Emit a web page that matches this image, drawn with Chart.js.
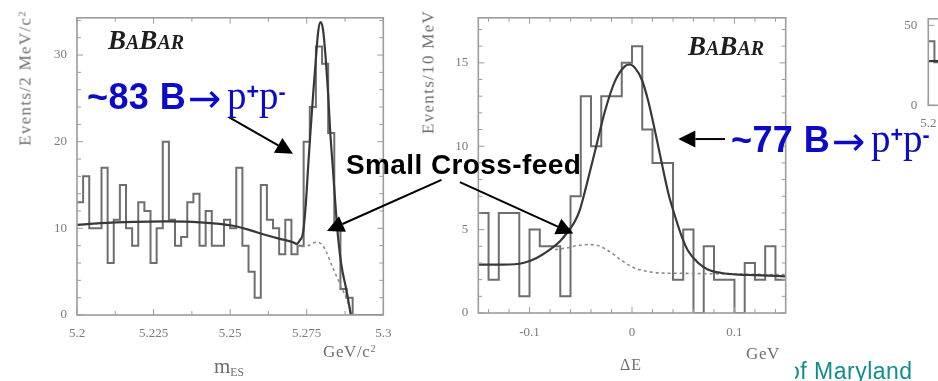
<!DOCTYPE html>
<html>
<head>
<meta charset="utf-8">
<script src="https://cdn.jsdelivr.net/npm/chart.js@4.4.1/dist/chart.umd.min.js"></script>
<style>
  html, body { margin: 0; padding: 0; background: #fff; width: 938px; height: 381px; overflow: hidden; }
  .panel { position: absolute; top: 0; }
  .txt { position: absolute; white-space: nowrap; line-height: 1; }
  .serif { font-family: 'Liberation Serif', 'Times New Roman', serif; color: #6e6e6e; }
  .sup { position: relative; top: -0.5em; font-size: 0.6em; }
  .sub { position: relative; top: 0.25em; font-size: 0.55em; }
  .babar { font-family: 'Liberation Serif', serif; font-style: italic; font-weight: bold; font-size: 27px; color: #1e1e1e; }
  .babar .sm { font-size: 20px; }
  .sig { font-family: 'Liberation Sans', Arial, sans-serif; font-weight: bold; font-size: 36px; letter-spacing: 0.4px; color: #0a0ac8; }
  .sig .arr { position: relative; top: 3px; font-family: 'DejaVu Sans', sans-serif; font-weight: normal; font-size: 40px; margin-left: 2px; margin-right: 5px; }
  .sig .pp { font-family: 'Liberation Serif', serif; font-weight: normal; font-size: 39px; letter-spacing: 0; }
  .sig .pp .ch { position: relative; top: -0.45em; font-family: 'Liberation Sans', sans-serif; font-weight: bold; font-size: 0.55em; }
  .note { font-family: 'Liberation Sans', Arial, sans-serif; font-weight: bold; font-size: 28px; letter-spacing: 0.4px; color: #000; }
  .rot { transform: translate(-50%, -50%) rotate(-90deg); font-size: 17px; letter-spacing: 1.3px; }
  .umd { position: absolute; left: 795px; top: 356px; width: 143px; height: 25px; overflow: hidden; }
  .umd span { position: absolute; left: -8px; top: 4px; white-space: nowrap; line-height: 1;
              font-family: 'Liberation Sans', Arial, sans-serif; font-size: 23px; letter-spacing: 0.5px; color: #138c8c; }
</style>
</head>
<body>

<div class="panel" style="left:0px"><canvas id="mesChart" width="460" height="381"></canvas></div>
<div class="panel" style="left:400px"><canvas id="deChart" width="400" height="381"></canvas></div>
<div class="panel" style="left:860px"><canvas id="thirdChart" width="400" height="130"></canvas></div>

<!-- axis titles -->
<div class="txt serif rot" style="left:25px; top:78px">Events/2 MeV/c<span class="sup">2</span></div>
<div class="txt serif rot" style="left:428px; top:72px">Events/10 MeV</div>
<div class="txt serif" style="left:214px; top:356px; font-size:21px">m<span class="sub">ES</span></div>
<div class="txt serif" style="left:323px; top:343px; font-size:17px; letter-spacing:0.6px">GeV/c<span class="sup">2</span></div>
<div class="txt serif" style="left:620px; top:357px; font-size:16px; letter-spacing:1px">ΔE</div>
<div class="txt serif" style="left:746px; top:345px; font-size:17px; letter-spacing:0.6px">GeV</div>

<!-- logos and labels -->
<div class="txt babar" style="left:108px; top:27px">B<span class="sm">A</span>B<span class="sm">AR</span></div>
<div class="txt babar" style="left:688px; top:33px">B<span class="sm">A</span>B<span class="sm">AR</span></div>
<div class="txt sig" style="left:87px; top:75px">~83 B<span class="arr">→</span><span class="pp">p<span class="ch">+</span>p<span class="ch">-</span></span></div>
<div class="txt sig" style="left:731px; top:118px">~77 B<span class="arr">→</span><span class="pp">p<span class="ch">+</span>p<span class="ch">-</span></span></div>
<div class="txt note" style="left:346px; top:151px">Small Cross-feed</div>
<div class="umd"><span>of Maryland</span></div>

<script>
// ---------- data ----------
// m_ES panel (2 MeV bins from 5.2)
const mesBinStart = 5.2;
const mesBinWidth = 0.002;
const mesCounts = [13, 16, 10, 10, 17, 6, 11, 15, 10, 8, 13, 12, 6, 10, 20, 11, 8, 9, 13, 14,
                   8, 12, 8, 8, 11, 10, 17, 8, 5, 2, 15, 11, 10, 7, 11, 7, 8, 20, 24, 31,
                   29, 21, 10, 3, 2, 0, 0, 0, 0, 0];
const mesFitX = [5.2, 5.2076, 5.2185, 5.2293, 5.2401, 5.251, 5.2564, 5.2619, 5.2673, 5.2705,
                 5.2717, 5.2727, 5.2738, 5.2747, 5.2755, 5.2762, 5.2771, 5.278, 5.2787, 5.2795,
                 5.2803, 5.2812, 5.282, 5.2827, 5.2836, 5.2845, 5.2852, 5.2863, 5.288, 5.2894];
const mesFitY = [10.4, 10.6, 10.75, 10.8, 10.7, 10.3, 9.8, 9.2, 8.7, 8.4,
                 8.2, 8.6, 9.5, 12.8, 17.3, 21.0, 25.5, 29.6, 32.6, 33.8,
                 33.0, 29.6, 25.5, 21.0, 16.6, 12.1, 9.1, 5.8, 2.8, 0];
const mesBkgX = [5.2717, 5.2727, 5.2755, 5.2782, 5.2798, 5.2814, 5.2831, 5.2847, 5.2863, 5.288, 5.2896];
const mesBkgY = [8.2, 7.9, 8.0, 8.4, 8.2, 7.3, 5.8, 4.5, 3.2, 1.9, 0.2];
const mesXTicks = [5.2, 5.2125, 5.225, 5.2375, 5.25, 5.2625, 5.275, 5.2875, 5.3];
const mesXLabels = ['5.2', '5.225', '5.25', '5.275', '5.3'];
const mesYTicks = [0, 2, 4, 6, 8, 10, 12, 14, 16, 18, 20, 22, 24, 26, 28, 30, 32, 34];
const mesYLabels = ['0', '10', '20', '30'];

// Delta E panel (10 MeV bins from -0.15)
const deBinStart = -0.15;
const deBinWidth = 0.01;
const deCounts = [6, 2, 6, 6, 1, 5, 4, 4, 1, 7, 13, 10, 13, 13, 15, 16, 11, 9, 9, 2,
                  5, 0, 4, 2, 2, 0, 3, 2, 4, 2];
const deFitX = [-0.15, -0.1257, -0.1062, -0.0931, -0.0801, -0.0703, -0.0622, -0.0557, -0.0508, -0.0459,
                -0.0361, -0.0264, -0.0166, -0.0068, -0.002, 0.0029, 0.0095, 0.0159, 0.0225, 0.029,
                0.0354, 0.042, 0.0485, 0.055, 0.0647, 0.0745, 0.0876, 0.1038, 0.1201, 0.15];
const deFitY = [2.9, 2.9, 3.0, 3.3, 3.8, 4.3, 4.9, 5.5, 6.2, 7.3,
                9.7, 12.1, 13.9, 14.8, 14.9, 14.7, 14.0, 12.7, 10.9, 9.0,
                7.2, 5.8, 4.6, 3.7, 3.0, 2.6, 2.4, 2.3, 2.27, 2.2];
const deBkgX = [-0.075, -0.0638, -0.054, -0.041, -0.0313, -0.0215, -0.0117, 0.0013, 0.0143, 0.0273, 0.047, 0.07, 0.15];
const deBkgY = [3.8, 3.9, 4.04, 4.1, 4.0, 3.67, 3.22, 2.73, 2.5, 2.4, 2.38, 2.36, 2.3];
const deXTicks = [-0.14, -0.12, -0.1, -0.08, -0.06, -0.04, -0.02, 0, 0.02, 0.04, 0.06, 0.08, 0.1, 0.12, 0.14];
const deXLabels = ['-0.1', '0', '0.1'];
const deYTicks = [0, 1, 2, 3, 4, 5, 6, 7, 8, 9, 10, 11, 12, 13, 14, 15, 16, 17];
const deYLabels = ['0', '5', '10', '15'];

// third panel, only its left edge is in the picture
const thirdBinStart = 5.2;
const thirdBinWidth = 0.002;
const thirdCounts = [40, 27];
const thirdFitX = [5.2, 5.21];
const thirdFitY = [27.6, 27.8];
const thirdXTicks = [5.2];
const thirdXLabels = ['5.2'];
const thirdYTicks = [0, 50];
const thirdYLabels = ['0', '50'];

// annotation arrows, in data units of their panel
const mesArrows = [
    { from: [5.2497, 22.8], to: [5.2705, 18.6] },
    { from: [5.319, 15.6], to: [5.2816, 9.7] }
];
const deArrows = [
    { from: [-0.168, 7.85], to: [-0.0573, 4.76] },
    { from: [0.0908, 10.43], to: [0.0452, 10.43] }
];

// ---------- helpers ----------
Chart.defaults.font.family = "'Liberation Serif', 'Times New Roman', serif";
Chart.defaults.font.size = 13;
Chart.defaults.color = '#7a7a7a';

function histPoints(start, width, counts) {
    const pts = counts.map((c, i) => ({ x: start + i * width, y: c }));
    pts.push({ x: start + counts.length * width, y: counts[counts.length - 1] });
    return pts;
}

function zipPoints(xs, ys) {
    return xs.map((x, i) => ({ x: x, y: ys[i] }));
}

function fmt(v) {
    return String(parseFloat(v.toFixed(4)));
}

// frame with inward ticks on all four sides
const framePlugin = {
    id: 'frame',
    afterDatasetsDraw(chart) {
        const { ctx, chartArea: a, scales } = chart;
        ctx.save();
        ctx.strokeStyle = '#9c9c9c';
        ctx.lineWidth = 1;
        scales.x.ticks.forEach(t => {
            const px = scales.x.getPixelForValue(t.value);
            const len = t.label ? 6 : 4;
            ctx.beginPath();
            ctx.moveTo(px, a.bottom); ctx.lineTo(px, a.bottom - len);
            ctx.moveTo(px, a.top); ctx.lineTo(px, a.top + len);
            ctx.stroke();
        });
        scales.y.ticks.forEach(t => {
            const py = scales.y.getPixelForValue(t.value);
            const len = t.label ? 6 : 4;
            ctx.beginPath();
            ctx.moveTo(a.left, py); ctx.lineTo(a.left + len, py);
            ctx.moveTo(a.right, py); ctx.lineTo(a.right - len, py);
            ctx.stroke();
        });
        ctx.lineWidth = 1.6;
        ctx.strokeRect(a.left, a.top, a.width, a.height);
        ctx.restore();
    }
};

function arrowPlugin(arrows) {
    return {
        id: 'arrows',
        afterDraw(chart) {
            const { ctx, scales } = chart;
            ctx.save();
            ctx.strokeStyle = '#000';
            ctx.fillStyle = '#000';
            ctx.lineWidth = 2;
            arrows.forEach(ar => {
                const x1 = scales.x.getPixelForValue(ar.from[0]);
                const y1 = scales.y.getPixelForValue(ar.from[1]);
                const x2 = scales.x.getPixelForValue(ar.to[0]);
                const y2 = scales.y.getPixelForValue(ar.to[1]);
                const ang = Math.atan2(y2 - y1, x2 - x1);
                const head = 17, half = 8.5;
                const bx = x2 - head * Math.cos(ang), by = y2 - head * Math.sin(ang);
                ctx.beginPath();
                ctx.moveTo(x1, y1); ctx.lineTo(bx, by);
                ctx.stroke();
                ctx.beginPath();
                ctx.moveTo(x2, y2);
                ctx.lineTo(bx + half * Math.sin(ang), by - half * Math.cos(ang));
                ctx.lineTo(bx - half * Math.sin(ang), by + half * Math.cos(ang));
                ctx.closePath();
                ctx.fill();
            });
            ctx.restore();
        }
    };
}

function makePanel(id, p) {
    const datasets = [
        { data: zipPoints(p.fitX, p.fitY), borderColor: '#383838', borderWidth: 2.2,
          cubicInterpolationMode: 'monotone', order: 0 },
        { data: histPoints(p.binStart, p.binWidth, p.counts), borderColor: '#6e6e6e', borderWidth: 2,
          stepped: 'before', order: 2 }
    ];
    if (p.bkgX) {
        datasets.push({ data: zipPoints(p.bkgX, p.bkgY), borderColor: '#8c8c8c', borderWidth: 1.6,
                        borderDash: [3, 3], cubicInterpolationMode: 'monotone', order: 1 });
    }
    return new Chart(document.getElementById(id), {
        type: 'line',
        data: { datasets: datasets },
        options: {
            responsive: false,
            animation: false,
            events: [],
            elements: { point: { radius: 0 }, line: { fill: false } },
            layout: { padding: p.padding },
            plugins: { legend: { display: false }, tooltip: { enabled: false } },
            scales: {
                x: {
                    type: 'linear', min: p.xMin, max: p.xMax,
                    grid: { display: false, drawTicks: false }, border: { display: false },
                    afterBuildTicks: s => { s.ticks = p.xTicks.map(v => ({ value: v })); },
                    afterFit: s => { s.height = p.xHeight; },
                    ticks: {
                        autoSkip: false, maxRotation: 0, minRotation: 0, padding: p.xPad,
                        callback: v => (p.xLabels.includes(fmt(v)) ? fmt(v) : '')
                    }
                },
                y: {
                    type: 'linear', min: 0, max: p.yMax,
                    grid: { display: false, drawTicks: false }, border: { display: false },
                    afterBuildTicks: s => { s.ticks = p.yTicks.map(v => ({ value: v })); },
                    afterFit: s => { s.width = p.yWidth; },
                    ticks: {
                        autoSkip: false, padding: p.yPad,
                        callback: v => (p.yLabels.includes(fmt(v)) ? fmt(v) : '')
                    }
                }
            }
        },
        plugins: [framePlugin, arrowPlugin(p.arrows || [])]
    });
}

makePanel('mesChart', {
    binStart: mesBinStart, binWidth: mesBinWidth, counts: mesCounts,
    fitX: mesFitX, fitY: mesFitY, bkgX: mesBkgX, bkgY: mesBkgY,
    xMin: 5.2, xMax: 5.3, yMax: 34.3,
    xTicks: mesXTicks, xLabels: mesXLabels, yTicks: mesYTicks, yLabels: mesYLabels,
    padding: { left: 0, right: 76.7, top: 9, bottom: 0 },
    xHeight: 66, yWidth: 77, xPad: 11, yPad: 10,
    arrows: mesArrows
});

makePanel('deChart', {
    binStart: deBinStart, binWidth: deBinWidth, counts: deCounts,
    fitX: deFitX, fitY: deFitY, bkgX: deBkgX, bkgY: deBkgY,
    xMin: -0.15, xMax: 0.15, yMax: 17.7,
    xTicks: deXTicks, xLabels: deXLabels, yTicks: deYTicks, yLabels: deYLabels,
    padding: { left: 0, right: 14.3, top: 9.3, bottom: 0 },
    xHeight: 68, yWidth: 78.3, xPad: 12, yPad: 10,
    arrows: deArrows
});

makePanel('thirdChart', {
    binStart: thirdBinStart, binWidth: thirdBinWidth, counts: thirdCounts,
    fitX: thirdFitX, fitY: thirdFitY,
    xMin: 5.2, xMax: 5.3, yMax: 54.1,
    xTicks: thirdXTicks, xLabels: thirdXLabels, yTicks: thirdYTicks, yLabels: thirdYLabels,
    padding: { left: 0, right: 25.7, top: 0, bottom: 0 },
    xHeight: 24.7, yWidth: 68.3, xPad: 10, yPad: 11
});
</script>
</body>
</html>
